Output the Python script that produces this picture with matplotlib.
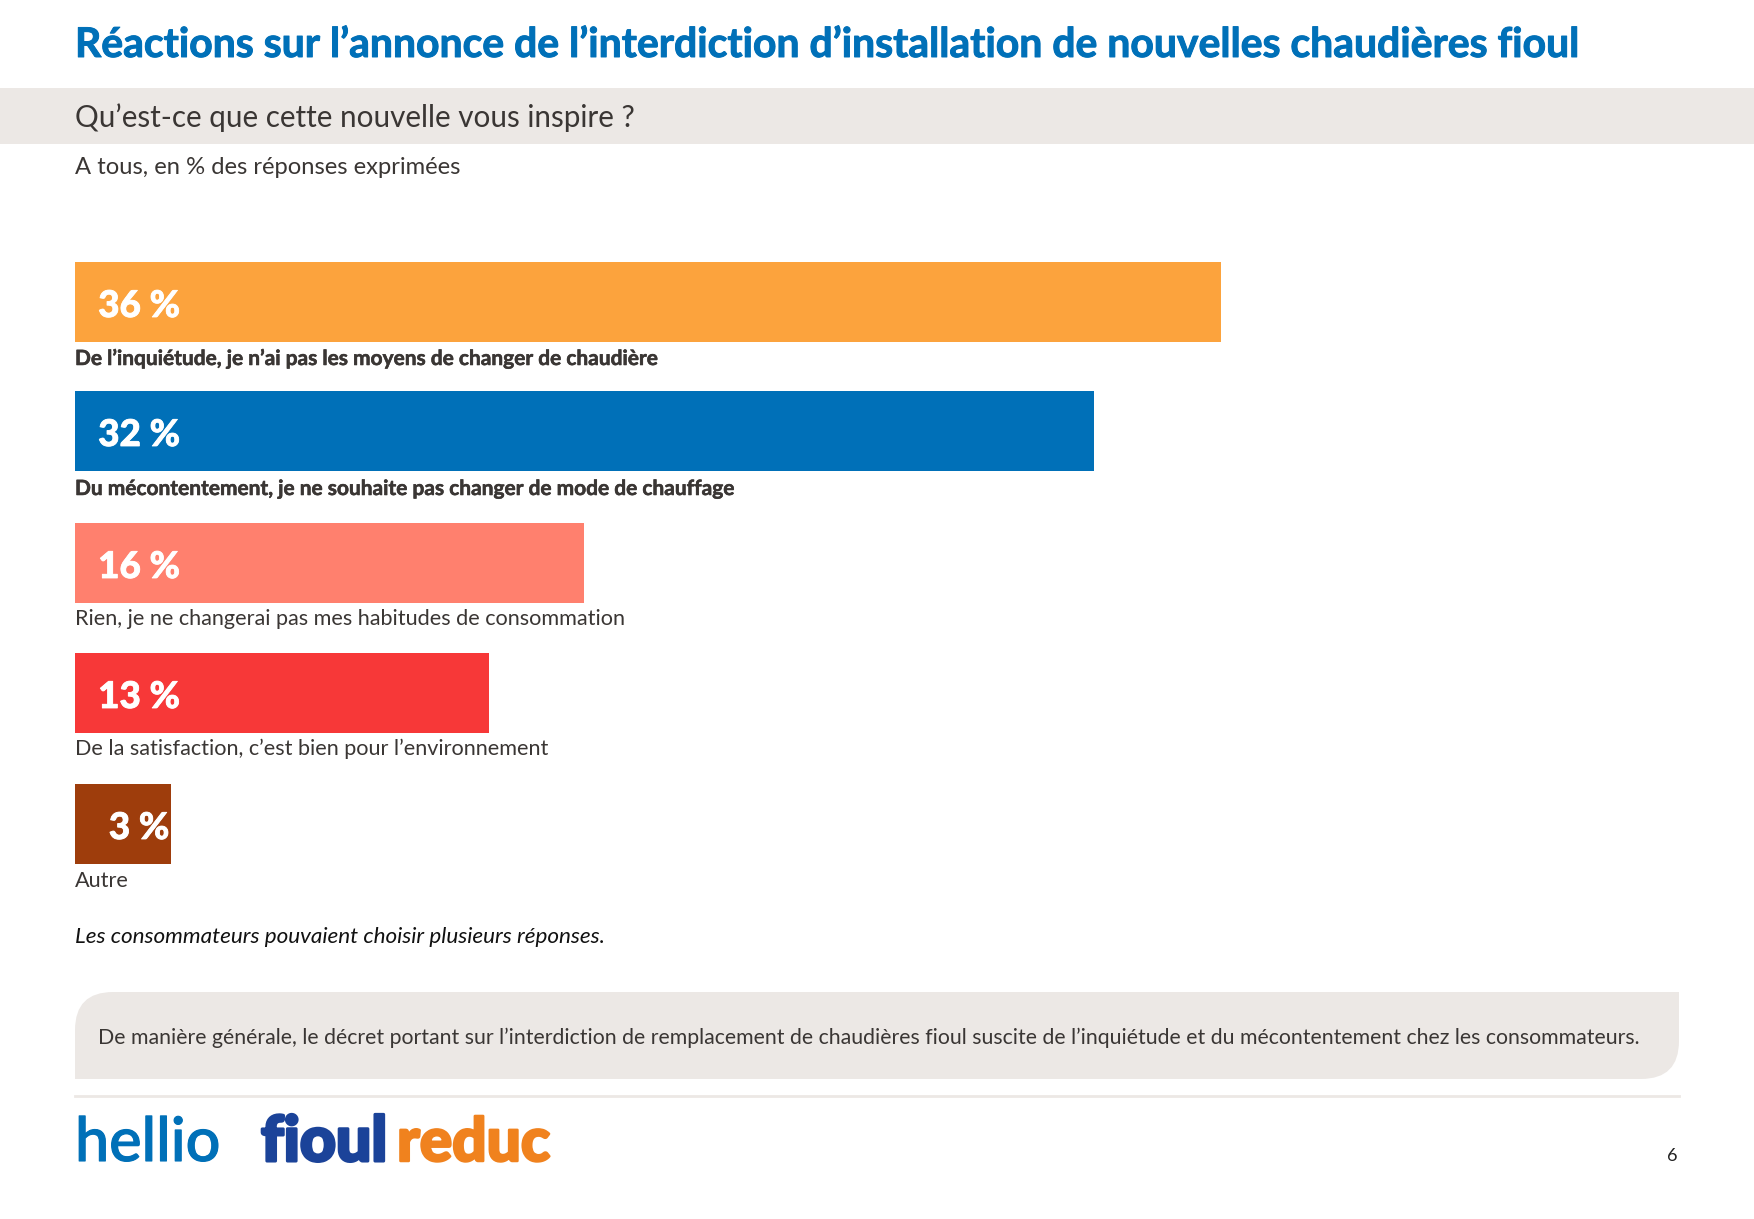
import matplotlib
matplotlib.use("Agg")
import matplotlib.pyplot as plt
import matplotlib.patheffects as pe
from matplotlib.patches import PathPatch, Rectangle
from matplotlib.path import Path

W, H = 1754, 1219

labels = [
    "De l’inquiétude, je n’ai pas les moyens de changer de chaudière",
    "Du mécontentement, je ne souhaite pas changer de mode de chauffage",
    "Rien, je ne changerai pas mes habitudes de consommation",
    "De la satisfaction, c’est bien pour l’environnement",
    "Autre",
]
values = [36, 32, 16, 13, 3]
colors = ["#FCA33D", "#0070B8", "#FF806E", "#F73838", "#9E3D0C"]
bold = [True, True, False, False, False]

title = "Réactions sur l’annonce de l’interdiction d’installation de nouvelles chaudières fioul"
question = "Qu’est-ce que cette nouvelle vous inspire ?"
base = "A tous, en % des réponses exprimées"
note = "Les consommateurs pouvaient choisir plusieurs réponses."
comment = ("De manière générale, le décret portant sur l’interdiction de remplacement "
           "de chaudières fioul suscite de l’inquiétude et du mécontentement chez les consommateurs.")

# layout in pixels
bar_tops = [262, 391, 523, 653, 784]
bar_h = 80
label_base = [365, 495, 625, 755, 887]
BLUE = "#0070B8"
GREY = "#ECE8E5"
INK = "#3A3634"


def thick(width, color):
    # Lato bold is lighter than the original face, so fatten it a little
    return [pe.withStroke(linewidth=width, foreground=color)]


plt.rcParams["font.family"] = ["Lato", "DejaVu Sans"]
fig = plt.figure(figsize=(W / 100, H / 100), dpi=100, facecolor="white")

# page layer, in pixels from top left
page = fig.add_axes([0, 0, 1, 1])
page.set_xlim(0, W)
page.set_ylim(H, 0)
page.axis("off")

page.add_patch(Rectangle((0, 88), W, 56, color=GREY, lw=0))
page.text(75, 57, title, fontsize=29.45, fontweight="bold", color=BLUE, va="baseline",
          path_effects=thick(0.7, BLUE))
page.text(75, 126.5, question, fontsize=21.3, color=INK, va="baseline")
page.text(75, 174.5, base, fontsize=17.1, color=INK, va="baseline")

for lab, y, b in zip(labels, label_base, bold):
    if b:
        page.text(75, y, lab, fontsize=15.05, color=INK, va="baseline", fontweight="bold",
                  path_effects=thick(0.4, INK))
    else:
        page.text(75, y, lab, fontsize=15.6, color=INK, va="baseline")

page.text(75, 943, note, fontsize=16.2, color="#111111", style="italic", va="baseline")

# comment box, rounded on two corners
x0, x1, y0, y1, r = 75, 1679, 992, 1079, 38
verts = [(x0 + r, y0), (x1, y0), (x1, y1 - r), (x1, y1), (x1 - r, y1), (x0, y1), (x0, y0 + r),
         (x0, y0), (x0 + r, y0), (x0 + r, y0)]
codes = [Path.MOVETO, Path.LINETO, Path.LINETO, Path.CURVE3, Path.CURVE3, Path.LINETO, Path.LINETO,
         Path.CURVE3, Path.CURVE3, Path.CLOSEPOLY]
page.add_patch(PathPatch(Path(verts, codes), facecolor=GREY, edgecolor="none"))
page.text(98.5, 1044, comment, fontsize=15.27, color=INK, va="baseline")

page.plot([75, 1679], [1096, 1096], color=GREY, lw=2)

# logos
page.text(75, 1161, "hellio", fontsize=44, color=BLUE, va="baseline", fontweight="medium",
          path_effects=thick(0.8, BLUE))
page.text(261, 1161, "fioul", fontsize=45, color="#1B4399", va="baseline", fontweight="black",
          path_effects=thick(2.2, "#1B4399"))
page.text(397, 1161, "reduc", fontsize=43.5, color="#F0821E", va="baseline", fontweight="black",
          path_effects=thick(1.8, "#F0821E"))
page.text(1678, 1156, "6", fontsize=13, color="#222222", ha="right", va="center")

# bars, x axis in percent
left, right = 75, 1221
ax = fig.add_axes([left / W, 0, (right - left) / W, 1])
ax.set_xlim(0, 36)
ax.set_ylim(H, 0)
ax.axis("off")
ax.patch.set_alpha(0)
centers = [t + bar_h / 2 for t in bar_tops]
ax.barh(centers, values, height=bar_h, color=colors, linewidth=0)

for c, v in zip(centers, values):
    ax.text(64 / 31.8, c + 4, f"{v} %", color="white", fontsize=26.5, fontweight="black",
            ha="center", va="center", path_effects=thick(0.6, "white"))

fig.savefig("out.png", dpi=100)
